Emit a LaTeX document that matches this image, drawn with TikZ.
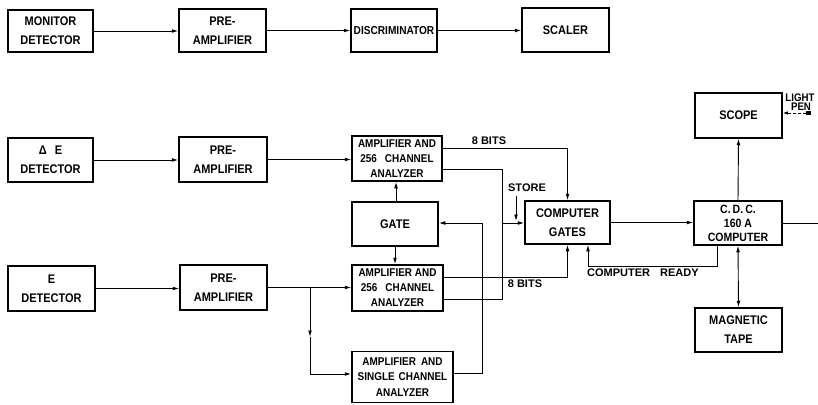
\documentclass[tikz,border=0pt]{standalone}
\usepackage{fontspec}
\setmainfont{Liberation Sans}
\newfontfamily\boxfont{Liberation Sans}[FakeStretch=0.88]
\usetikzlibrary{arrows.meta}
\begin{document}
\begin{tikzpicture}[x=1pt,y=-1pt,
  box/.style={draw, line width=1.5pt, inner sep=0pt, align=center, font=\boxfont\fontsize{12.5}{19}\selectfont\bfseries},
  boxc/.style={box, font=\boxfont\fontsize{11.3}{15}\selectfont\bfseries},
  conn/.style={line width=0.9pt},
  arr/.style={conn, -{Latex[length=6.5pt,width=3.8pt]}},
  darr/.style={conn, {Latex[length=6.5pt,width=3.8pt]}-{Latex[length=6.5pt,width=3.8pt]}},
  lbl/.style={font=\fontsize{11}{12}\selectfont\bfseries, inner sep=0pt}
]
\useasboundingbox (0,0) rectangle (818,404);
\fill[white] (0,0) rectangle (818,404);

% boxes
\node[box, minimum width=85pt, minimum height=42pt] (mon) at (50.5,31) {MONITOR\\DETECTOR};
\node[box, minimum width=87pt, minimum height=43pt] (pa1) at (222.5,30.5) {PRE-\\AMPLIFIER};
\node[box, font=\boxfont\fontsize{11.5}{19}\selectfont\bfseries, minimum width=86pt, minimum height=43pt] (disc) at (394,30.5) {DISCRIMINATOR};
\node[box, minimum width=87pt, minimum height=44pt] (scal) at (565.5,30) {SCALER};

\node[box, minimum width=85pt, minimum height=44pt] (de) at (50.5,160) {Δ\hspace{8pt}E\\DETECTOR};
\node[box, minimum width=88pt, minimum height=45pt] (pa2) at (223,159.5) {PRE-\\AMPLIFIER};
\node[boxc, minimum width=90pt, minimum height=45pt] (amp1) at (397,158.5) {AMPLIFIER AND\\256\hspace{8pt}CHANNEL\\ANALYZER};
\node[box, minimum width=86pt, minimum height=44pt] (gate) at (395,224) {GATE};
\node[boxc, minimum width=91pt, minimum height=46pt] (amp2) at (397.5,288) {AMPLIFIER AND\\256\hspace{8pt}CHANNEL\\ANALYZER};
\node[boxc, font=\boxfont\fontsize{11.3}{15.5}\selectfont\bfseries, minimum width=101pt, minimum height=51pt] (amp3) at (402.5,377) {AMPLIFIER\hspace{5pt}AND\\SINGLE\hspace{4pt}CHANNEL\\ANALYZER};

\node[box, minimum width=87pt, minimum height=45pt] (e) at (51.5,288.5) {E\\DETECTOR};
\node[box, minimum width=87pt, minimum height=45pt] (pa3) at (223.5,287.5) {PRE-\\AMPLIFIER};

\node[box, minimum width=85pt, minimum height=43pt] (cg) at (567.5,222.5) {COMPUTER\\GATES};
\node[box, font=\boxfont\fontsize{12}{14}\selectfont\bfseries, minimum width=88pt, minimum height=44pt] (cdc) at (738,223) {C.\,D.\,C.\\160 A\\COMPUTER};
\node[box, minimum width=87pt, minimum height=45pt] (scope) at (738.5,115.5) {SCOPE};
\node[box, minimum width=87pt, minimum height=44pt] (tape) at (738.5,330) {MAGNETIC\\TAPE};

% helper coordinates
\coordinate (y148) at (0,148);
\coordinate (y169) at (0,169);
\coordinate (y277) at (0,277);
\coordinate (y299) at (0,299);
\coordinate (y373) at (0,373);
\coordinate (y266) at (0,266);
\coordinate (x396) at (396,0);
\coordinate (x395) at (395,0);
\coordinate (x717) at (717,0);
\coordinate (x588) at (588,0);
\coordinate (j502) at (502,223);
\coordinate (j482) at (482,223);
\coordinate (br) at (310,287.5);
\coordinate (brm) at (310,337);
\coordinate (br2) at (310,374);
\coordinate (sttop) at (516,196);
\coordinate (stbot) at (516,221);
\coordinate (rt) at (818,223);

% top row
\draw[arr] (mon.east) -- (mon.east -| pa1.west);
\draw[arr] (pa1.east) -- (pa1.east -| disc.west);
\draw[arr] (disc.east) -- (disc.east -| scal.west);

% Delta E row
\draw[arr] (de.east) -- (de.east -| pa2.west);
\draw[arr] (pa2.east) -- (pa2.east -| amp1.west);

% E row
\draw[arr] (e.east) -- (e.east -| pa3.west);
\draw[arr] (pa3.east) -- (pa3.east -| amp2.west);
\draw[arr] (br) -- (brm);
\draw[arr] (brm) -- (br2) -- (br2 -| amp3.west);

% gate
\draw[arr] (gate.north -| x396) -- (amp1.south -| x396);
\draw[arr] (gate.south -| x395) -- (amp2.north -| x395);
\draw[arr] (amp3.east |- y373) -| (j482) -- (j482 -| gate.east);

% analyzer outputs
\draw[arr] (amp1.east |- y148) -| (cg.north);
\draw[conn] (amp1.east |- y169) -| (j502);
\draw[conn] (amp2.east |- y299) -| (j502);
\draw[arr] (j502) -- (j502 -| cg.west);
\draw[arr] (amp2.east |- y277) -| (cg.south);

% store
\node[lbl] (st) at (527,188) {STORE};
\draw[arr] (sttop) -- (stbot);

% labels
\node[lbl] (b1) at (489,141) {8 BITS};
\node[lbl] (b2) at (525,284) {8 BITS};
\node[lbl, anchor=west] (cr) at (587,273) {COMPUTER\hspace{10pt}READY};

% computer
\draw[arr] (cg.east) -- (cg.east -| cdc.west);
\draw[arr] (cdc.north) -- (scope.south);
\draw[darr] (cdc.south) -- (tape.north);
\draw[conn] (cdc.east) -- (rt);
\draw[arr] (cdc.south -| x717) -- (x717 |- y266) -- (x588 |- y266) -- (cg.south -| x588);

% light pen
\node[lbl, font=\boxfont\fontsize{11}{11}\selectfont\bfseries] (lt) at (800,97.5) {LIGHT};
\node[lbl, font=\boxfont\fontsize{11}{11}\selectfont\bfseries] (pn) at (801,107) {PEN};
\node[fill, minimum size=4.5pt, inner sep=0pt] (lp) at (808.5,113) {};
\draw[conn, dash pattern=on 3pt off 2pt, -{Latex[length=5pt,width=3.4pt]}] (lp.west) -- (lp.west -| scope.east);
\end{tikzpicture}
\end{document}
